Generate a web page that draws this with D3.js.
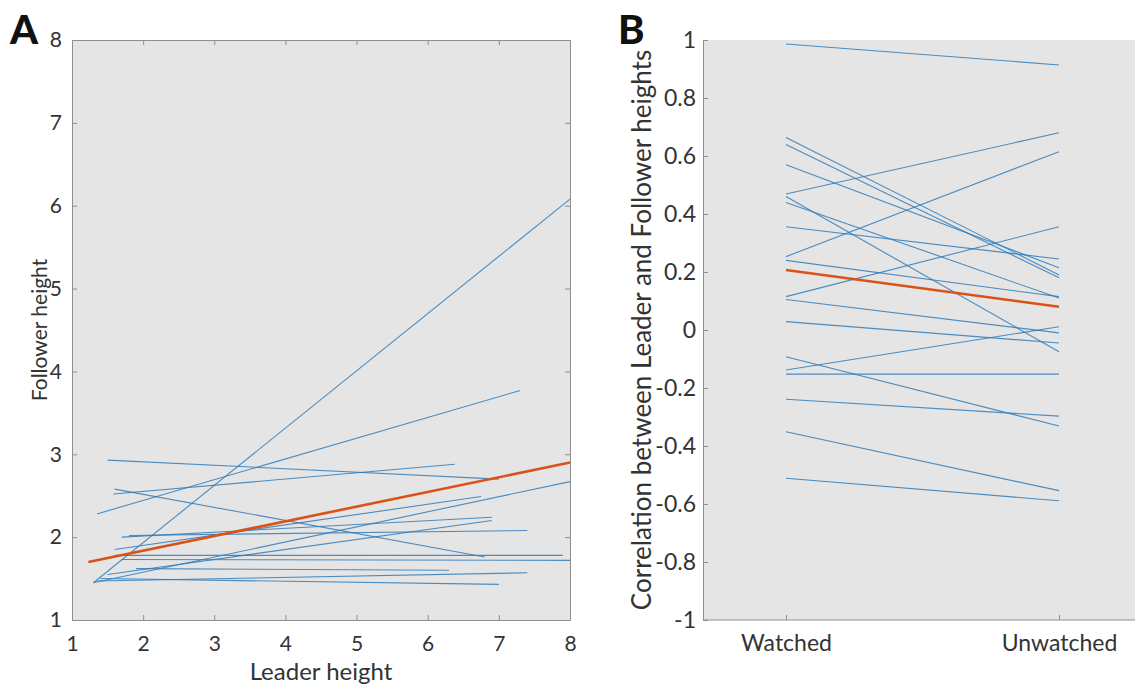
<!DOCTYPE html>
<html>
<head>
<meta charset="utf-8">
<script src="https://cdn.jsdelivr.net/npm/d3@7"></script>
<style>
  html, body { margin: 0; padding: 0; background: #fff; }
  svg { display: block; font-family: Lato, "Open Sans", sans-serif; }
</style>
</head>
<body>
<svg id="fig" width="1135" height="685"></svg>
<script>
// Panel A: per-participant regression of follower height on leader height
// each fit is [leaderStart, followerStart, leaderEnd, followerEnd]
const participantFits = [
  [1.30, 1.45, 8.00, 6.08],
  [1.35, 2.28, 7.30, 3.77],
  [1.50, 2.93, 7.00, 2.70],
  [1.58, 2.52, 6.38, 2.88],
  [1.60, 2.58, 6.80, 1.76],
  [1.30, 1.45, 8.00, 2.67],
  [1.70, 2.00, 6.90, 2.24],
  [1.80, 2.02, 7.40, 2.08],
  [1.60, 1.85, 6.75, 2.49],
  [1.60, 1.78, 7.90, 1.78],
  [1.70, 1.73, 8.00, 1.72],
  [1.35, 1.47, 7.40, 1.57],
  [1.40, 1.50, 7.00, 1.43],
  [1.90, 1.62, 6.30, 1.60],
  [1.50, 1.55, 6.90, 2.20]
];
// pooled fit across participants
const pooledFit = [1.23, 1.70, 8.00, 2.90];

const leaderTicks = [1, 2, 3, 4, 5, 6, 7, 8];
const followerTicks = [1, 2, 3, 4, 5, 6, 7, 8];

// Panel B: leader/follower correlation per participant in each condition
const conditions = ["Watched", "Unwatched"];
const watchedCorr = [0.986, 0.664, 0.640, 0.570, 0.469, 0.460, 0.440, 0.356, 0.253, 0.240,
                     0.115, 0.105, 0.029, -0.092, -0.138, -0.152, -0.239, -0.351, -0.511];
const unwatchedCorr = [0.914, 0.190, 0.180, 0.215, 0.680, -0.075, 0.110, 0.245, 0.615, 0.115,
                       0.356, -0.010, -0.045, -0.331, 0.011, -0.152, -0.297, -0.554, -0.589];
const meanCorr = [0.207, 0.080];
const corrTicks = [-1, -0.8, -0.6, -0.4, -0.2, 0, 0.2, 0.4, 0.6, 0.8, 1];

const BLUE = "#2f7bba";
const ORANGE = "#d95319";
const AXIS = "#8f8f8f";
const TEXT = "#333";
const FILL = "#e5e5e5";

const svg = d3.select("#fig");

function frame(g, x0, x1, y0, y1) {
  g.append("rect")
    .attr("x", x0).attr("y", y0)
    .attr("width", x1 - x0).attr("height", y1 - y0)
    .attr("fill", FILL);
}

function styleAxis(sel, size) {
  sel.select(".domain").attr("stroke", AXIS);
  sel.selectAll(".tick line").attr("stroke", AXIS);
  sel.selectAll(".tick text").attr("fill", TEXT).attr("font-size", size)
    .attr("font-family", "Lato, sans-serif");
}

// ---------- Panel A ----------
const A = { left: 72, right: 570, top: 40, bottom: 620 };
const xA = d3.scaleLinear().domain([1, 8]).range([A.left, A.right]);
const yA = d3.scaleLinear().domain([1, 8]).range([A.bottom, A.top]);
const gA = svg.append("g");
frame(gA, A.left, A.right, A.top, A.bottom);

const linesA = gA.append("g");
linesA.selectAll("line.fit").data(participantFits).join("line")
  .attr("class", "fit")
  .attr("x1", d => xA(d[0])).attr("y1", d => yA(d[1]))
  .attr("x2", d => xA(d[2])).attr("y2", d => yA(d[3]))
  .attr("stroke", BLUE).attr("stroke-width", 1.1).attr("stroke-opacity", 0.85);
linesA.append("line")
  .attr("x1", xA(pooledFit[0])).attr("y1", yA(pooledFit[1]))
  .attr("x2", xA(pooledFit[2])).attr("y2", yA(pooledFit[3]))
  .attr("stroke", ORANGE).attr("stroke-width", 2.6);

gA.append("g").attr("transform", `translate(0,${A.bottom})`)
  .call(d3.axisBottom(xA).tickValues(leaderTicks).tickFormat(d3.format("d"))
        .tickSizeInner(-5).tickSizeOuter(0).tickPadding(16))
  .call(styleAxis, 21);
gA.append("g").attr("transform", `translate(0,${A.top})`)
  .call(d3.axisTop(xA).tickValues(leaderTicks).tickFormat("").tickSizeInner(-5).tickSizeOuter(0))
  .call(styleAxis, 21);
gA.append("g").attr("transform", `translate(${A.left},0)`)
  .call(d3.axisLeft(yA).tickValues(followerTicks).tickFormat(d3.format("d"))
        .tickSizeInner(-5).tickSizeOuter(0).tickPadding(10))
  .call(styleAxis, 21);
gA.append("g").attr("transform", `translate(${A.right},0)`)
  .call(d3.axisRight(yA).tickValues(followerTicks).tickFormat("").tickSizeInner(-5).tickSizeOuter(0))
  .call(styleAxis, 21);

gA.append("text").attr("x", (A.left + A.right) / 2).attr("y", 680)
  .attr("text-anchor", "middle").attr("font-size", 24).attr("fill", TEXT)
  .text("Leader height");
gA.append("text")
  .attr("transform", `translate(47,${(A.top + A.bottom) / 2}) rotate(-90)`)
  .attr("text-anchor", "middle").attr("font-size", 21).attr("fill", TEXT)
  .text("Follower height");
svg.append("text").attr("x", 10).attr("y", 44)
  .attr("font-size", 40).attr("font-weight", 900).attr("fill", "#111")
  .attr("font-family", "Lato, sans-serif").text("A");

// ---------- Panel B ----------
const B = { left: 703, right: 1135, top: 40, bottom: 620 };
const xB = d3.scalePoint().domain(conditions).range([786, 1059]);
const yB = d3.scaleLinear().domain([-1, 1]).range([B.bottom, B.top]);
const gB = svg.append("g");
frame(gB, B.left, B.right, B.top, B.bottom);

const pairs = watchedCorr.map((w, i) => [w, unwatchedCorr[i]]);
gB.append("g").selectAll("line.pair").data(pairs).join("line")
  .attr("class", "pair")
  .attr("x1", xB(conditions[0])).attr("y1", d => yB(d[0]))
  .attr("x2", xB(conditions[1])).attr("y2", d => yB(d[1]))
  .attr("stroke", BLUE).attr("stroke-width", 1.1).attr("stroke-opacity", 0.85);
gB.append("line")
  .attr("x1", xB(conditions[0])).attr("y1", yB(meanCorr[0]))
  .attr("x2", xB(conditions[1])).attr("y2", yB(meanCorr[1]))
  .attr("stroke", ORANGE).attr("stroke-width", 2.6);

const bottomB = gB.append("g").attr("transform", `translate(0,${B.bottom})`)
  .call(d3.axisBottom(xB).tickSizeInner(-5).tickSizeOuter(0).tickPadding(15))
  .call(styleAxis, 23);
bottomB.select(".domain").attr("d", `M${B.left},0H${B.right}`);
gB.append("g").attr("transform", `translate(${B.left},0)`)
  .call(d3.axisLeft(yB).tickValues(corrTicks).tickFormat(d => d3.format("")(d).replace("−", "-"))
        .tickSizeInner(-5).tickSizeOuter(0).tickPadding(7))
  .call(styleAxis, 23);

gB.append("text")
  .attr("transform", `translate(651,${(B.top + B.bottom) / 2}) rotate(-90)`)
  .attr("text-anchor", "middle").attr("font-size", 26).attr("fill", TEXT)
  .text("Correlation between Leader and Follower heights");
svg.append("text").attr("x", 618).attr("y", 44)
  .attr("font-size", 40).attr("font-weight", 900).attr("fill", "#111")
  .attr("font-family", "Lato, sans-serif").text("B");
</script>
</body>
</html>
